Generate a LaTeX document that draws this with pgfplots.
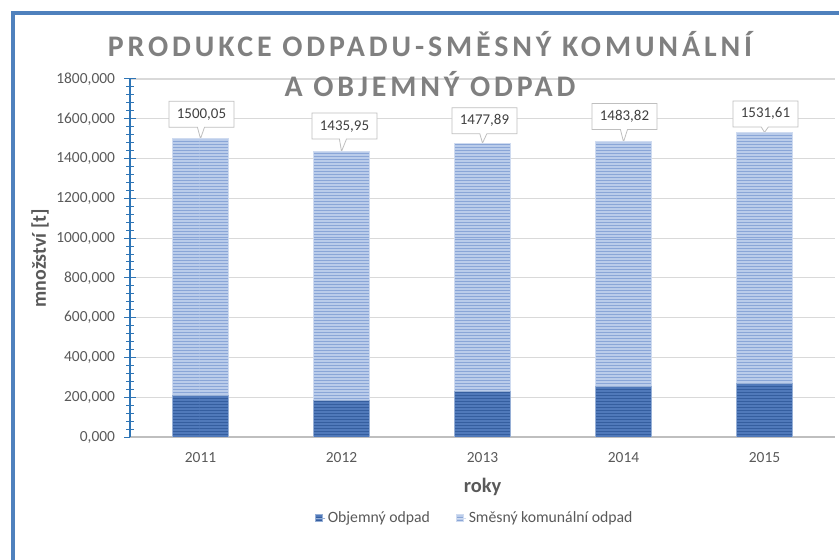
\documentclass[border=0pt]{standalone}
\usepackage{pgfplots}
\pgfplotsset{compat=1.18}
\usepackage{pgfplotstable}
\usepackage{fontspec}
\setmainfont{Carlito}
\newfontfamily\titlefont[LetterSpace=13]{Carlito}
\usetikzlibrary{patterns,shapes.callouts}
\definecolor{frameblue}{HTML}{4F81BD}
\definecolor{axisblue}{HTML}{2E75B6}
\definecolor{darkbase}{HTML}{5079BA}
\definecolor{darkstripe}{HTML}{355E9F}
\definecolor{lightbase}{HTML}{BACCEA}
\definecolor{lightstripe}{HTML}{8AA6D7}
\definecolor{txt}{HTML}{595959}
\definecolor{titlegray}{HTML}{808080}
\definecolor{gridgray}{HTML}{D9D9D9}
\pgfplotstableread{
x obj sme
0 210 1290.05
1 183 1252.95
2 230 1247.89
3 255 1228.82
4 267 1264.61
}\data
\tikzset{lab/.style={rectangle callout, draw=black!25, line width=0.8bp, fill=white, text=black!75, font=\fontsize{15}{18}\selectfont, inner xsep=8bp, inner ysep=7bp, text height=10bp, text depth=2bp, anchor=south}}
\begin{document}
\begin{tikzpicture}
\useasboundingbox (0,0) rectangle (839bp,560bp);
\begin{axis}[
  at={(130bp,123bp)}, anchor=south west,
  scale only axis, width=705bp, height=358bp,
  ybar stacked, bar width=56bp,
  xmin=-0.5, xmax=4.5, ymin=0, ymax=1800,
  xtick={0,1,2,3,4}, xticklabels={2011,2012,2013,2014,2015},
  ytick={0,200,...,1800}, minor y tick num=4,
  axis x line*=bottom, axis y line*=left,
  x axis line style={draw=black!25, line width=2bp},
  y axis line style={draw=axisblue, line width=1.2bp},
  xtick style={draw=none},
  ytick style={draw=axisblue, line width=1bp},
  tick align=center, major tick length=11bp, minor tick length=7bp,
  ymajorgrids, grid style={draw=gridgray, line width=1.2bp},
  /pgf/number format/assume math mode=true,
  ticklabel style={font=\fontsize{15.5}{18}\selectfont, text=txt},
  yticklabel style={xshift=-6bp, /pgf/number format/.cd, fixed, fixed zerofill, precision=3, use comma, 1000 sep={}},
  xticklabel style={yshift=-6bp},
  xlabel={roky}, ylabel={množství [t]},
  every axis x label/.style={at={(axis description cs:0.5,0)}, anchor=base, yshift=-55bp, font=\bfseries\fontsize{20.5}{24}\selectfont, text=txt},
  every axis y label/.style={at={(axis description cs:0,0.5)}, xshift=-90bp, rotate=90, anchor=center, font=\bfseries\fontsize{20}{24}\selectfont, text=txt},
  legend columns=2,
  legend style={at={(axis description cs:0.489,0)}, anchor=center, yshift=-81bp, draw=none, fill=none, font=\fontsize{15.8}{18}\selectfont, text=txt, /tikz/every even column/.append style={column sep=24bp}},
  legend image code/.code={\path[#1, draw=none] (0bp,-3.5bp) rectangle (7bp,3.5bp); \path (0bp,0bp) -- (10bp,0bp);},
]
\addplot[fill=darkbase, draw=darkbase!60!white, line width=0.8bp, postaction={pattern=horizontal lines, pattern color=darkstripe}] table[x=x, y=obj] {\data};
\addlegendentry{Objemný odpad}
\addplot[fill=lightbase, draw=lightbase!70!white, line width=0.8bp, postaction={pattern=horizontal lines, pattern color=lightstripe}] table[x=x, y=sme] {\data};
\addlegendentry{Směsný komunální odpad}
\node[lab, xshift=1bp, yshift=11bp, callout absolute pointer={(axis cs:0,1500.05)}] at (axis cs:0,1500.05) {1500,05};
\node[lab, xshift=3bp, yshift=12bp, callout absolute pointer={(axis cs:1,1435.95)}] at (axis cs:1,1435.95) {1435,95};
\node[lab, xshift=2bp, yshift=9bp, callout absolute pointer={(axis cs:2,1477.89)}] at (axis cs:2,1477.89) {1477,89};
\node[lab, xshift=1bp, yshift=12bp, callout absolute pointer={(axis cs:3,1483.82)}] at (axis cs:3,1483.82) {1483,82};
\node[lab, xshift=1bp, yshift=5bp, callout absolute pointer={(axis cs:4,1531.61)}] at (axis cs:4,1531.61) {1531,61};
\end{axis}
\node[font=\titlefont\bfseries\fontsize{30}{36}\selectfont, text=titlegray, anchor=base] at (430bp,503bp) {PRODUKCE ODPADU-SMĚSNÝ KOMUNÁLNÍ};
\node[font=\titlefont\bfseries\fontsize{30}{36}\selectfont, text=titlegray, anchor=base] at (430bp,463bp) {A OBJEMNÝ ODPAD};
\draw[frameblue, line width=4bp] (12.5bp,-5bp) -- (12.5bp,546.5bp) -- (845bp,546.5bp);
\end{tikzpicture}
\end{document}
